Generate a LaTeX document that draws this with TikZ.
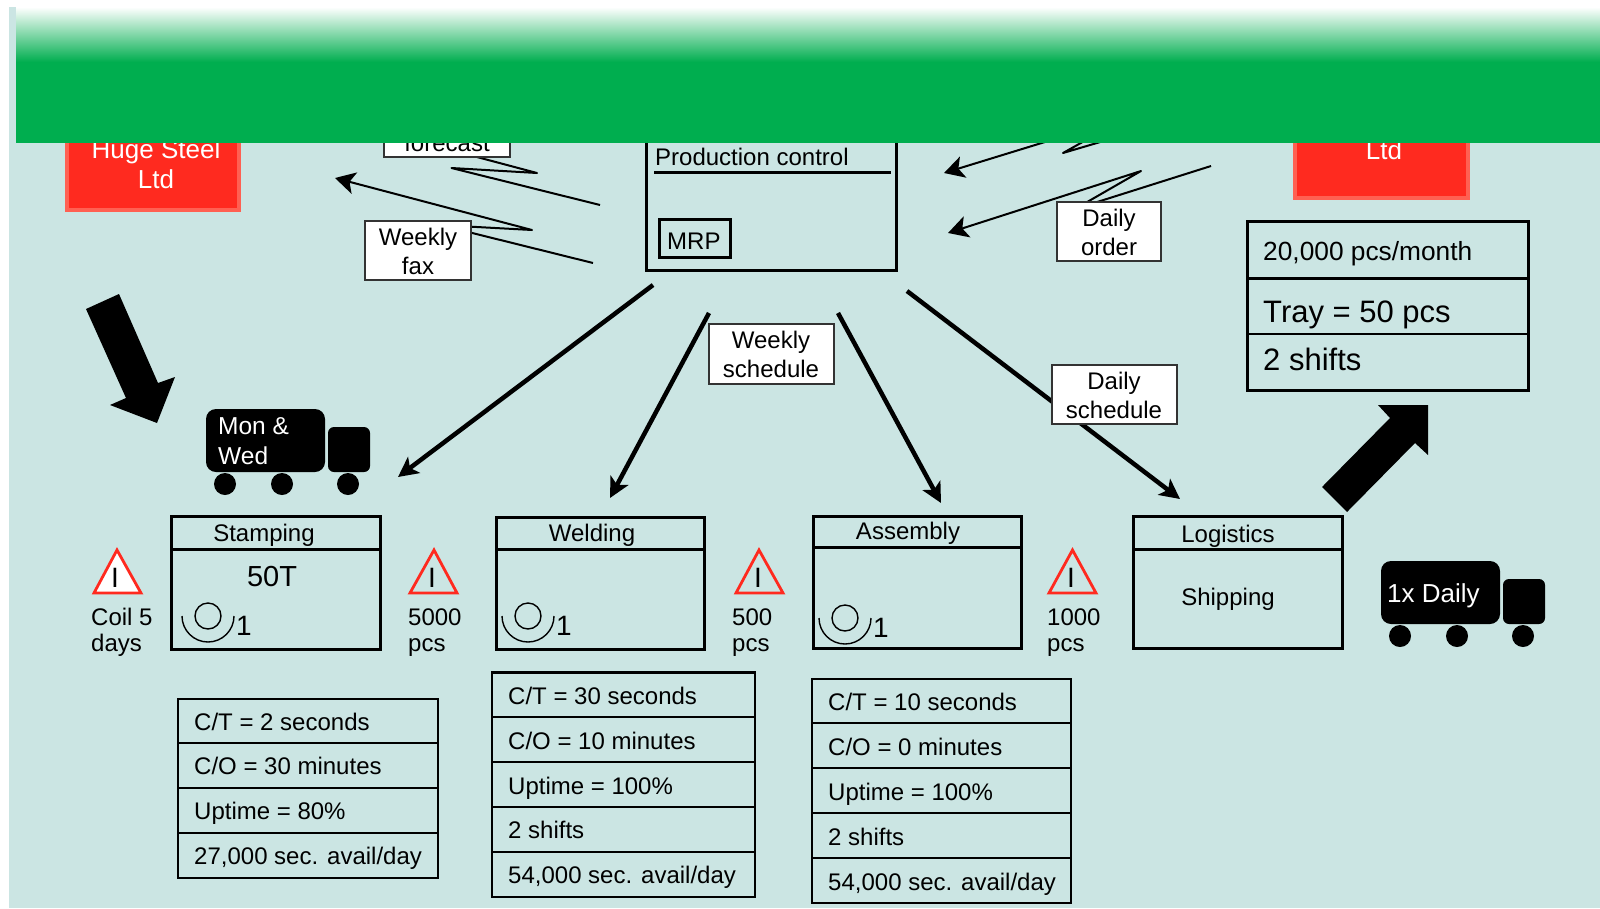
\documentclass[tikz,border=0pt]{standalone}
\usepackage{fontspec}
\setmainfont{Liberation Sans}
\usetikzlibrary{arrows.meta}
\definecolor{vsmback}{HTML}{CBE5E3}
\definecolor{vsmgreen}{HTML}{00AE4F}
\definecolor{vsmred}{HTML}{FF2A1F}
\definecolor{vsmredlight}{HTML}{FF6052}
\tikzset{
    txt/.style={font=\fontsize{24}{29}\selectfont, inner sep=0pt, anchor=base west},
    txtc/.style={txt, anchor=center, align=center},
    txtl/.style={inner sep=0pt, anchor=west, align=left, font=\fontsize{24}{25.5}\selectfont},
    whitetxt/.style={font=\fontsize{26}{30.5}\selectfont, inner sep=0pt, text=white, align=center},
    note/.style={draw=black!80, line width=1.6pt, fill=white},
    flash/.style={line width=2pt, line join=round},
    flashtip/.style={flash, -{Stealth[length=20pt, width=22pt, inset=5pt]}},
    push/.style={line width=4.5pt, -{Stealth[length=20pt, width=20pt, inset=5pt]}},
    procbox/.style={line width=3pt},
    databox/.style={line width=2.6pt},
    triangle/.style={draw=vsmred, line width=2.8pt},
}
\begin{document}
\begin{tikzpicture}[x=1pt, y=-1pt]
    \useasboundingbox (0,0) rectangle (1600,908);
    \fill[vsmback] (9,7) rectangle (1600,908);

    % Suppliers
    \draw[fill=vsmred, draw=vsmredlight, line width=4pt] (67,100) rectangle (239,210);
    \draw[fill=vsmred, draw=vsmredlight, line width=4pt] (1295,100) rectangle (1468,198);
    \node[whitetxt] (SteelTxt) at (156,164) {Huge Steel\\Ltd};
    \node[whitetxt] (CustTxt) at (1384,150) {Ltd};

    % Forecast fax
    \node (F1) at (600,205) {};
    \node (F2) at (451.5,168) {};
    \node (F3) at (537,173) {};
    \node (F4) at (338,120) {};
    \draw[flash] (F1.center) -- (F2.center) -- (F3.center) -- (F4.center);
    \draw[note] (384,120) rectangle (510,157);
    \node[txtc] (ForecastTxt) at (447,143) {forecast};

    % Weekly fax
    \node (W1) at (593,263) {};
    \node (W2) at (440,225) {};
    \node (W3) at (532,230) {};
    \node (W4) at (335,178) {};
    \draw[flashtip] (W1.center) -- (W2.center) -- (W3.center) -- (W4.center);
    \draw[note] (365,221) rectangle (471,280);
    \node[txtc] (WeeklyTxt) at (418,251.5) {Weekly\\fax};

    % Daily order
    \node (D1) at (1211,166) {};
    \node (D2) at (1075,209) {};
    \node (D3) at (1141,171) {};
    \node (D4) at (948,233) {};
    \draw[flashtip] (D1.center) -- (D2.center) -- (D3.center) -- (D4.center);
    \draw[note] (1057,202) rectangle (1161,261);
    \node[txtc] (DailyTxt) at (1109,232) {Daily\\order};

    % Upper order line
    \node (U1) at (1124,135) {};
    \node (U2) at (1063,153) {};
    \node (U3) at (1095,135) {};
    \node (U4) at (1084,130) {};
    \node (U5) at (944,173) {};
    \draw[flash] (U1.center) -- (U2.center) -- (U3.center);
    \draw[flashtip] (U4.center) -- (U5.center);

    % Production control
    \draw[procbox] (646,100) rectangle (896,270);
    \draw[procbox] (654,172) -- (891,172);
    \draw[procbox] (659,219) rectangle (730,257);
    \node[txt] (ControlTxt) at (655,165) {Production control};
    \node[txt] (MrpTxt) at (667,249) {MRP};

    % Schedule arrows
    \node (C1) at (653,285) {};
    \node (C2) at (398,477) {};
    \node (C3) at (709,313) {};
    \node (C4) at (610,498) {};
    \node (C5) at (838,313) {};
    \node (C6) at (941,503) {};
    \node (C7) at (907,291) {};
    \node (C8) at (1180,499) {};
    \draw[push] (C1.center) -- (C2.center);
    \draw[push] (C3.center) -- (C4.center);
    \draw[push] (C5.center) -- (C6.center);
    \draw[push] (C7.center) -- (C8.center);

    \draw[note] (709,324) rectangle (834,384);
    \node[txtc] (WeekSchedTxt) at (771,354.5) {Weekly\\schedule};
    \draw[note] (1052,365) rectangle (1177,424);
    \node[txtc] (DaySchedTxt) at (1114,395.5) {Daily\\schedule};

    % Big shipment arrows
    \fill (86,309) -- (119,294) -- (158,383) -- (175,377) -- (157,423) -- (110,405) -- (126,398) -- cycle;
    \fill (1322,487) -- (1390,418) -- (1378,405) -- (1428,405) -- (1428,455) -- (1415,443) -- (1347,512) -- cycle;

    % Trucks
    \foreach \dx/\dy in {0/0, 1175/152} {
        \begin{scope}[shift={(\dx,\dy)}]
            \fill[rounded corners=10pt] (206,409) rectangle (325,472);
            \fill[rounded corners=6pt] (328,427) rectangle (370,472);
            \fill (225,484) circle (11);
            \fill (282,484) circle (11);
            \fill (348,484) circle (11);
        \end{scope}
    }
    \node[whitetxt, anchor=west, align=left, font=\fontsize{24.5}{30}\selectfont] (TruckOneTxt) at (218,441.5) {Mon \&\\Wed};
    \node[whitetxt, anchor=west] (TruckTwoTxt) at (1387,596) {1x Daily};

    % Process boxes
    \draw[procbox] (171,516) rectangle (380,649);
    \draw[procbox] (171,549) -- (380,549);
    \node[txtc] (StampTxt) at (264,535) {Stamping};
    \node[txtc, font=\fontsize{29}{33}\selectfont] (TonTxt) at (272,577) {50T};

    \draw[procbox] (496,517) rectangle (704,649);
    \draw[procbox] (496,549) -- (704,549);
    \node[txtc] (WeldTxt) at (592,535) {Welding};

    \draw[procbox] (813,516) rectangle (1021,648);
    \draw[procbox] (813,547) -- (1021,547);
    \node[txtc] (AssemTxt) at (908,533) {Assembly};

    \draw[procbox] (1133,516) rectangle (1342,648);
    \draw[procbox] (1133,549) -- (1342,549);
    \node[txtc] (LogTxt) at (1228,536) {Logistics};
    \node[txtc] (ShipTxt) at (1228,599) {Shipping};

    % Operators
    \foreach \ox/\oy/\n in {208/616/1, 528/616/2, 845/618/3} {
        \draw[line width=1.4pt] (\ox,\oy) circle (13);
        \draw[line width=1.4pt] (\ox-26,\oy) arc[start angle=180, end angle=0, radius=26];
        \node[txt, anchor=center, font=\fontsize{28}{32}\selectfont] (Op\n) at (\ox+36,\oy+10) {1};
    }

    % Inventory triangles
    \draw[triangle, fill=white] (117,550) -- (141,593) -- (94,593) -- cycle;
    \draw[triangle] (434,550) -- (457,593) -- (410,593) -- cycle;
    \draw[triangle] (759,550) -- (783,593) -- (736,593) -- cycle;
    \draw[triangle] (1072.5,550) -- (1096,593) -- (1049,593) -- cycle;
    \foreach \ix/\n in {115/1, 432/2, 758/3, 1071/4} {
        \node[txtc, font=\fontsize{28}{32}\selectfont] (Inv\n) at (\ix,578) {I};
    }
    \node[txtl] (CoilTxt) at (91,632.5) {Coil 5\\days};
    \node[txtl] (InvOneTxt) at (408,632.5) {5000\\pcs};
    \node[txtl] (InvTwoTxt) at (732,632.5) {500\\pcs};
    \node[txtl] (InvThreeTxt) at (1047,632.5) {1000\\pcs};

    % Stamping data
    \draw[databox] (178,699) rectangle (438,878);
    \draw[databox] (178,743) -- (438,743);
    \draw[databox] (178,788) -- (438,788);
    \draw[databox] (178,833) -- (438,833);
    \node[txt] (SD1) at (194,730) {C/T = 2 seconds};
    \node[txt] (SD2) at (194,774) {C/O = 30 minutes};
    \node[txt] (SD3) at (194,819) {Uptime = 80\%};
    \node[txt] (SD4) at (194,864) {27,000 sec. avail/day};

    % Welding data
    \draw[databox] (492,672.5) rectangle (755,897);
    \draw[databox] (492,717) -- (755,717);
    \draw[databox] (492,762) -- (755,762);
    \draw[databox] (492,807) -- (755,807);
    \draw[databox] (492,852) -- (755,852);
    \node[txt] (WD1) at (508,704) {C/T = 30 seconds};
    \node[txt] (WD2) at (508,749) {C/O = 10 minutes};
    \node[txt] (WD3) at (508,794) {Uptime = 100\%};
    \node[txt] (WD4) at (508,838) {2 shifts};
    \node[txt] (WD5) at (508,883) {54,000 sec. avail/day};

    % Assembly data
    \draw[databox] (812,679) rectangle (1071,903);
    \draw[databox] (812,723) -- (1071,723);
    \draw[databox] (812,768) -- (1071,768);
    \draw[databox] (812,813) -- (1071,813);
    \draw[databox] (812,858) -- (1071,858);
    \node[txt] (AD1) at (828,710) {C/T = 10 seconds};
    \node[txt] (AD2) at (828,755) {C/O = 0 minutes};
    \node[txt] (AD3) at (828,800) {Uptime = 100\%};
    \node[txt] (AD4) at (828,845) {2 shifts};
    \node[txt] (AD5) at (828,890) {54,000 sec. avail/day};

    % Customer data
    \draw[procbox] (1247,221) rectangle (1528,390);
    \draw[procbox] (1247,278) -- (1528,278);
    \draw[databox] (1247,334) -- (1528,334);
    \node[txt, font=\fontsize{26.3}{31}\selectfont] (CD1) at (1263,260) {20,000 pcs/month};
    \node[txt, font=\fontsize{31}{35}\selectfont] (CD2) at (1263,322) {Tray = 50 pcs};
    \node[txt, font=\fontsize{31}{35}\selectfont] (CD3) at (1263,370) {2 shifts};

    % Title band
    \shade[top color=white, bottom color=vsmgreen] (16,7) rectangle (1600,62);
    \fill[vsmgreen] (16,62) rectangle (1600,143);
\end{tikzpicture}
\end{document}
